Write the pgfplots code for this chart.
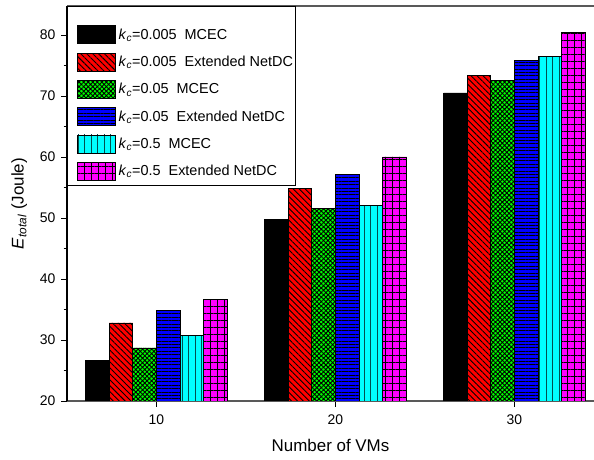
\documentclass[border=0pt]{standalone}
\usepackage{pgfplots}
\pgfplotsset{compat=1.18}
\usetikzlibrary{patterns.meta}
\usepackage{fontspec}
\setmainfont{Liberation Sans}

\begin{document}
\begin{tikzpicture}[x=1bp,y=1bp]
\useasboundingbox (0,0) rectangle (594,460);
\begin{axis}[
  at={(67bp,59bp)}, anchor=south west,
  width=527bp, height=395bp, scale only axis,
  xmin=5, xmax=34.45, ymin=20, ymax=84.75,
  axis y line*=left,
  ybar, bar width=1.32,
  xtick={10,20,30}, xtick pos=bottom,
  ytick={20,30,...,80}, minor ytick={25,35,...,75},
  tick align=outside, major tick length=6bp, minor tick length=3.5bp,
  tick style={black, line width=0.8bp},
  tick label style={font=\fontsize{14}{16}\selectfont},
  xticklabel shift=4bp, yticklabel shift=2bp,
  /pgf/number format/assume math mode=true,
  axis line style={line width=1.2bp, draw=black!65},
  y axis line style={draw=black},
  xlabel={Number of VMs},
  ylabel={\textit{E}\textsubscript{\textit{total}} (Joule)},
  xlabel shift=8bp, ylabel shift=6bp,
  label style={font=\fontsize{17}{20}\selectfont},
  legend cell align=left,
  legend style={at={(0,1)}, anchor=north west, draw=black, line width=0.8bp,
    font=\fontsize{14.5}{16}\selectfont, row sep=8.5bp, inner xsep=0bp, inner ysep=5bp,
    nodes={inner xsep=2.5bp}},
  legend image code/.code={\path (0bp,0bp); \draw[#1, line width=0.8bp] (10bp,-9bp) rectangle (48bp,9bp);},
  every axis plot/.append style={draw=black, line width=0.8bp},
]
\addlegendimage{empty legend}
\addlegendentry{}
\addplot[fill=black, bar shift=-3.3] coordinates {(10,26.7) (20,49.7) (30,70.5)};
\addlegendentry{\textit{k}\textsubscript{\textit{c}}=0.005\ \ MCEC}
\addplot[fill=red, bar shift=-1.98, postaction={pattern={Lines[angle=-45,distance=4.2bp,line width=0.9bp]}}] coordinates {(10,32.8) (20,54.9) (30,73.3)};
\addlegendentry{\textit{k}\textsubscript{\textit{c}}=0.005\ \ Extended NetDC}
\addplot[fill=green, bar shift=-0.66, postaction={pattern={Hatch[angle=45,distance=3.2bp,line width=0.9bp]}}] coordinates {(10,28.7) (20,51.6) (30,72.6)};
\addlegendentry{\textit{k}\textsubscript{\textit{c}}=0.05\ \ MCEC}
\addplot[fill=blue, bar shift=0.66, postaction={pattern={Lines[angle=0,distance=3.4bp,line width=0.9bp]}}] coordinates {(10,34.9) (20,57.2) (30,75.8)};
\addlegendentry{\textit{k}\textsubscript{\textit{c}}=0.05\ \ Extended NetDC}
\addplot[fill={rgb,255:red,0;green,255;blue,255}, bar shift=1.98, postaction={pattern={Lines[angle=90,distance=6.5bp,line width=0.7bp]}, pattern color={rgb,255:red,0;green,80;blue,80}}] coordinates {(10,30.7) (20,52.0) (30,76.5)};
\addlegendentry{\textit{k}\textsubscript{\textit{c}}=0.5\ \ MCEC}
\addplot[fill={rgb,255:red,255;green,0;blue,255}, bar shift=3.3, postaction={pattern={Hatch[angle=0,distance=7bp,line width=0.9bp]}}] coordinates {(10,36.6) (20,60.0) (30,80.4)};
\addlegendentry{\textit{k}\textsubscript{\textit{c}}=0.5\ \ Extended NetDC}
\end{axis}
\end{tikzpicture}
\end{document}
